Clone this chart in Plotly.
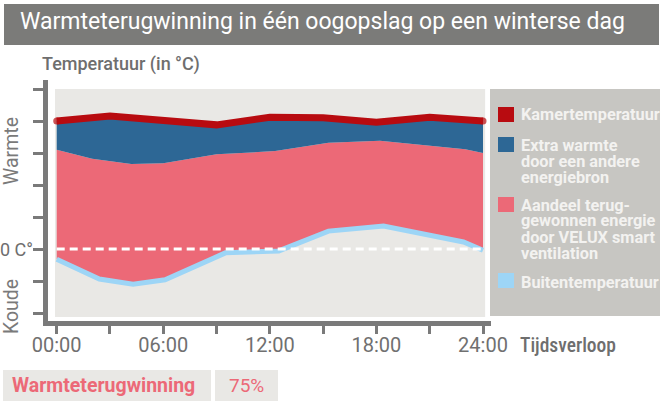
import plotly.graph_objects as go

# ---------------- data ----------------
room_hours = [0, 3, 9, 12, 15, 18, 21, 24]
room_temp = [20.0, 20.8, 19.4, 20.6, 20.5, 19.8, 20.6, 20.0]

recovered_hours = [0, 2, 4.2, 6, 9, 12.3, 15.3, 18.2, 23, 24]
recovered_top = [15.5, 14.1, 13.3, 13.4, 14.8, 15.3, 16.6, 16.9, 15.6, 15.0]

outdoor_hours = [0, 2.4, 4.3, 6.1, 9.5, 12.5, 15.3, 18.4, 22.9, 24]
outdoor_temp = [-1.6, -4.7, -5.5, -4.8, -0.6, -0.3, 2.8, 3.6, 1.1, -0.2]

tick_hours = [0, 3, 6, 9, 12, 15, 18, 21, 24]
tick_labels = ["00:00", "", "06:00", "", "12:00", "", "18:00", "", "24:00"]
temp_ticks = [-10, -5, 0, 5, 10, 15, 20, 25]

legend_names = [
    ["Kamertemperatuur"],
    ["Extra warmte", "door een andere", "energiebron"],
    ["Aandeel terug-", "gewonnen energie", "door VELUX smart", "ventilation"],
    ["Buitentemperatuur"],
]
recovery_label = "Warmteterugwinning"
recovery_share = "75%"

# ---------------- style ----------------
RED = "#b80b10"
BLUE = "#2d6795"
PINK = "#ec6977"
LBLUE = "#9dd5f6"
AX = "#7a7a7a"
TXT = "#6e6e6e"
F = "Roboto, Liberation Sans, sans-serif"
FC = "Roboto Condensed, Roboto, sans-serif"

W, H = 662, 405
L, R, T, B = 48, 171, 80, 84
PW, PH = W - L - R, H - T - B


def px_x(px):
    return (px - L) / PW


def px_y(py):
    return (H - B - py) / PH


fig = go.Figure()

# base (outdoor) path for the fill
fig.add_trace(go.Scatter(x=outdoor_hours, y=outdoor_temp, mode="lines",
                         line=dict(width=0, color=LBLUE), hoverinfo="skip", showlegend=False))
fig.add_trace(go.Scatter(x=recovered_hours, y=recovered_top, mode="lines", fill="tonexty",
                         fillcolor=PINK, line=dict(width=0, color=PINK), hoverinfo="skip",
                         showlegend=False))
fig.add_trace(go.Scatter(x=room_hours, y=room_temp, mode="lines", fill="tonexty",
                         fillcolor=BLUE, line=dict(width=0, color=BLUE), hoverinfo="skip",
                         showlegend=False))
fig.add_trace(go.Scatter(x=outdoor_hours, y=outdoor_temp, mode="lines",
                         line=dict(width=5, color=LBLUE), hoverinfo="skip", showlegend=False))
end_caps = [7] + [0] * (len(room_hours) - 2) + [7]
fig.add_trace(go.Scatter(x=room_hours, y=room_temp, mode="lines+markers",
                         line=dict(width=7, color=RED),
                         marker=dict(size=end_caps, color=RED, line=dict(width=0)),
                         hoverinfo="skip", showlegend=False))

shapes = []
# plot background panel
shapes.append(dict(type="rect", xref="x", yref="y", x0=-0.096, x1=24.12, y0=-10.63, y1=25,
                   fillcolor="#e9e8e5", line=dict(width=0), layer="below"))
# zero line
shapes.append(dict(type="line", xref="x", yref="y", x0=0, x1=23.9, y0=0, y1=0,
                   line=dict(color="white", width=3, dash="8px,5px"), layer="above"))
# title bar
shapes.append(dict(type="rect", xref="paper", yref="paper", x0=px_x(4), x1=px_x(659),
                   y0=px_y(45), y1=px_y(4), fillcolor="#7b7b79", line=dict(width=0)))
# legend panel
shapes.append(dict(type="rect", xref="paper", yref="paper", x0=px_x(490), x1=px_x(660),
                   y0=px_y(316), y1=px_y(89), fillcolor="#c7c6c2", line=dict(width=0)))
# bottom boxes
shapes.append(dict(type="rect", xref="paper", yref="paper", x0=px_x(3), x1=px_x(211),
                   y0=px_y(401), y1=px_y(370), fillcolor="#e9e8e5", line=dict(width=0)))
shapes.append(dict(type="rect", xref="paper", yref="paper", x0=px_x(215), x1=px_x(278),
                   y0=px_y(401), y1=px_y(370), fillcolor="#e9e8e5", line=dict(width=0)))

annotations = []


def ann(text, x, y, size, color, xanchor="left", yanchor="middle", angle=0,
        weight="normal", family=F):
    annotations.append(dict(text=text, x=px_x(x), y=px_y(y), xref="paper", yref="paper",
                            xanchor=xanchor, yanchor=yanchor, showarrow=False, textangle=angle,
                            borderpad=0,
                            font=dict(family=family, size=size, color=color, weight=weight)))


ann("Warmteterugwinning in één oogopslag op een winterse dag", 19, 22, 23, "white")
ann("Temperatuur (in °C)", 41, 64, 18, TXT, weight=500)
ann("Warmte", 11, 151, 19.5, AX, xanchor="center", angle=-90)
ann("Koude", 11, 307, 19.5, AX, xanchor="center", angle=-90)
ann("0 C°", 34, 250, 18, TXT, xanchor="right")
ann("Tijdsverloop", 519, 345, 19.5, TXT, weight=500, family=FC)
ann(recovery_label, 11, 385, 19.5, PINK, weight="bold")
ann(recovery_share, 246.5, 385, 19, PINK, xanchor="center")

# legend
leg_colors = [RED, BLUE, PINK, LBLUE]
leg_square_top = [107, 137, 197, 273]
leg_line_y = [[114], [145, 161, 177], [205, 221, 237, 253], [282]]
for names, col, sq, ys in zip(legend_names, leg_colors, leg_square_top, leg_line_y):
    shapes.append(dict(type="rect", xref="paper", yref="paper", x0=px_x(498), x1=px_x(514),
                       y0=px_y(sq + 15), y1=px_y(sq), fillcolor=col, line=dict(width=0)))
    for name, yy in zip(names, ys):
        ann(name, 520, yy, 16.3, "#f3f2f0", weight="bold")

fig.update_layout(
    width=W, height=H,
    margin=dict(l=L, r=R, t=T, b=B),
    paper_bgcolor="white", plot_bgcolor="white",
    showlegend=False,
    shapes=shapes, annotations=annotations,
    font=dict(family=F, color=TXT),
    xaxis=dict(range=[-0.49, 24.45], tickvals=tick_hours, ticktext=tick_labels,
               ticks="outside", ticklen=8, tickwidth=3, tickcolor=AX, ticklabelstandoff=-6,
               showline=True, linewidth=5, linecolor=AX, showgrid=False, zeroline=False,
               tickfont=dict(family=F, size=20, color="#707070"), fixedrange=True),
    yaxis=dict(range=[-11.25, 26.41], tickvals=temp_ticks, showticklabels=False,
               ticks="outside", ticklen=10, tickwidth=3, tickcolor=AX,
               showline=True, linewidth=5, linecolor=AX, showgrid=False, zeroline=False,
               fixedrange=True),
)

fig.write_html("out.html", config={"displayModeBar": False},
               post_script="document.body.style.margin='0';")
